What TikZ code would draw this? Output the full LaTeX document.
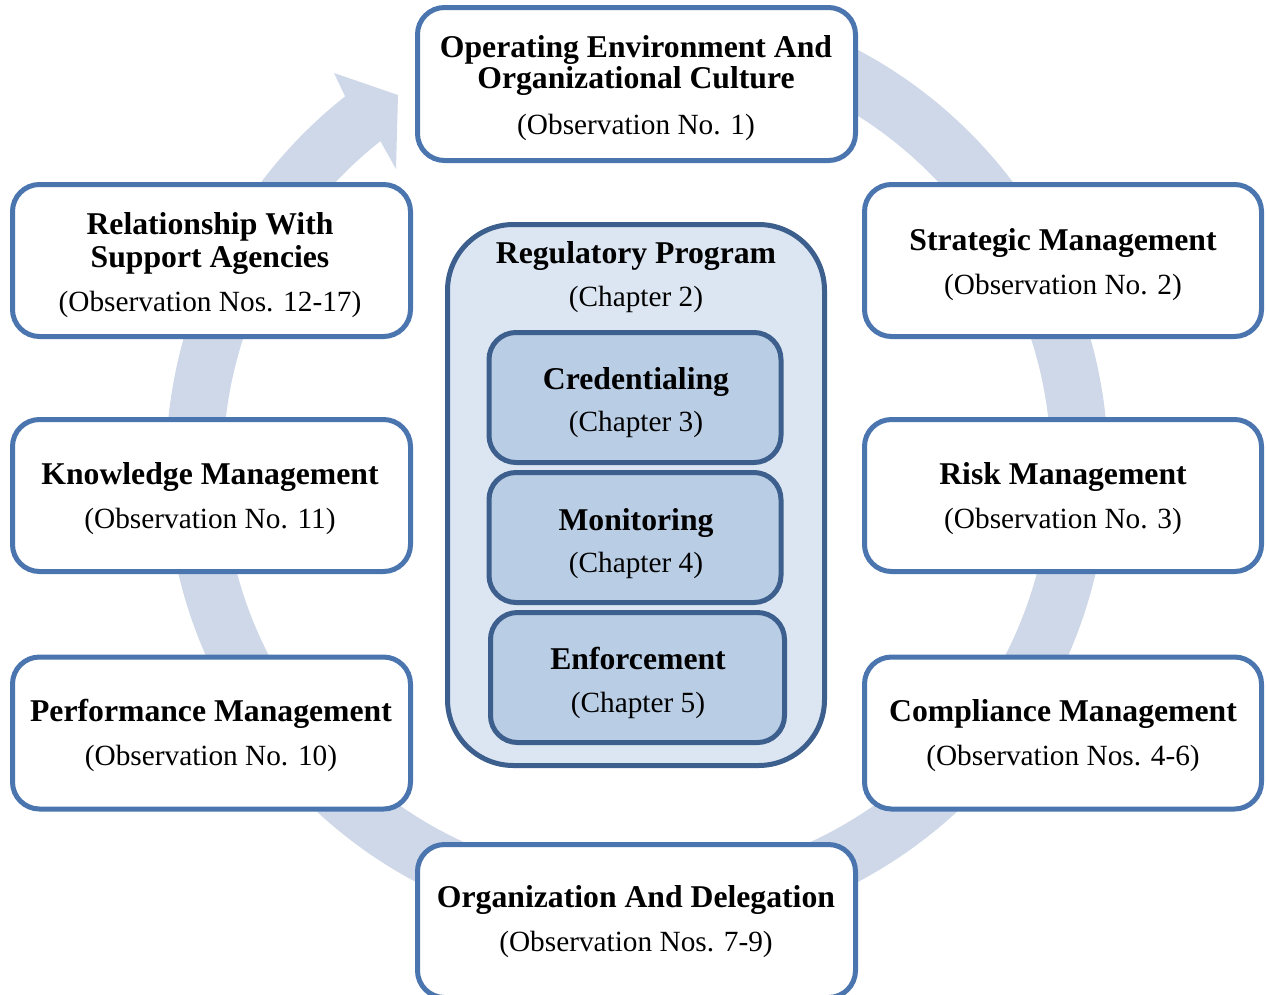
\documentclass[tikz,border=0pt]{standalone}
\usepackage{fontspec}
\setmainfont{Liberation Serif}
\usetikzlibrary{calc}
\definecolor{ringc}{RGB}{207,216,232}
\definecolor{boxline}{RGB}{74,117,174}
\definecolor{progline}{RGB}{61,95,141}
\definecolor{progfill}{RGB}{220,230,242}
\definecolor{subfill}{RGB}{185,205,229}
\begin{document}
\begin{tikzpicture}[x=1pt,y=-1pt,
  obox/.style={draw=boxline, line width=5pt, fill=white, rounded corners=27pt, inner sep=0pt},
  progbox/.style={draw=progline, line width=5pt, fill=progfill, rounded corners=66pt, inner sep=0pt},
  subbox/.style={draw=progline, line width=5pt, fill=subfill, rounded corners=27pt, inner sep=0pt},
  hd/.style={font=\fontsize{31.7}{31}\selectfont\bfseries, anchor=base, inner sep=0pt},
  sub/.style={font=\fontsize{29.3}{30}\selectfont, anchor=base, inner sep=0pt}]
\useasboundingbox (0,0) rectangle (1266,994);

% circular arrow running behind the boxes
\coordinate (ctr) at (637,466);
\fill[ringc] ($(ctr)+(-75:471)$) arc[start angle=-75, end angle=231.7, radius=471]
  -- (334,73) -- (398,95) -- (396,169)
  -- ($(ctr)+(231.7:414)$) arc[start angle=231.7, end angle=-75, radius=414] -- cycle;

% outer ring of topic boxes
\node[obox, minimum width=438pt, minimum height=153pt] (top) at (636.5,84) {};
\node[obox, minimum width=438pt, minimum height=153pt] (bot) at (636.5,921) {};
\node[obox, minimum width=398pt, minimum height=152pt] (rel) at (211.5,260.5) {};
\node[obox, minimum width=398pt, minimum height=152pt] (know) at (211.5,495.5) {};
\node[obox, minimum width=398pt, minimum height=152pt] (perf) at (211.5,733) {};
\node[obox, minimum width=397pt, minimum height=152pt] (strat) at (1063,260.5) {};
\node[obox, minimum width=397pt, minimum height=152pt] (risk) at (1063,495.5) {};
\node[obox, minimum width=397pt, minimum height=152pt] (comp) at (1063,733) {};

% central program with its chapters
\node[progbox, minimum width=377pt, minimum height=541pt] (prog) at (636,495) {};
\node[subbox, minimum width=292pt, minimum height=130pt] (cred) at (635,397.5) {};
\node[subbox, minimum width=292pt, minimum height=130pt] (mon) at (635,537.5) {};
\node[subbox, minimum width=294pt, minimum height=130pt] (enf) at (637.5,677.5) {};

% labels
\node[hd] (topA) at (636,57) {Operating Environment And};
\node[hd] (topB) at (636,88) {Organizational Culture};
\node[sub] (topC) at (636,134) {(Observation No. 1)};

\node[hd] (stratA) at (1063,250) {Strategic Management};
\node[sub] (stratB) at (1063,294) {(Observation No. 2)};

\node[hd] (riskA) at (1063,484) {Risk Management};
\node[sub] (riskB) at (1063,528) {(Observation No. 3)};

\node[hd] (compA) at (1063,721) {Compliance Management};
\node[sub] (compB) at (1063,765) {(Observation Nos. 4-6)};

\node[hd] (botA) at (636,907) {Organization And Delegation};
\node[sub] (botB) at (636,951) {(Observation Nos. 7-9)};

\node[hd] (perfA) at (211,721) {Performance Management};
\node[sub] (perfB) at (211,765) {(Observation No. 10)};

\node[hd] (knowA) at (210,484) {Knowledge Management};
\node[sub] (knowB) at (210,528) {(Observation No. 11)};

\node[hd] (relA) at (210,234) {Relationship With};
\node[hd] (relB) at (210,267) {Support Agencies};
\node[sub] (relC) at (210,311) {(Observation Nos. 12-17)};

\node[hd] (progA) at (636,263) {Regulatory Program};
\node[sub] (progB) at (636,306) {(Chapter 2)};

\node[hd] (credA) at (636,389) {Credentialing};
\node[sub] (credB) at (636,431) {(Chapter 3)};

\node[hd] (monA) at (636,530) {Monitoring};
\node[sub] (monB) at (636,572) {(Chapter 4)};

\node[hd] (enfA) at (638,669) {Enforcement};
\node[sub] (enfB) at (638,712) {(Chapter 5)};
\end{tikzpicture}
\end{document}
